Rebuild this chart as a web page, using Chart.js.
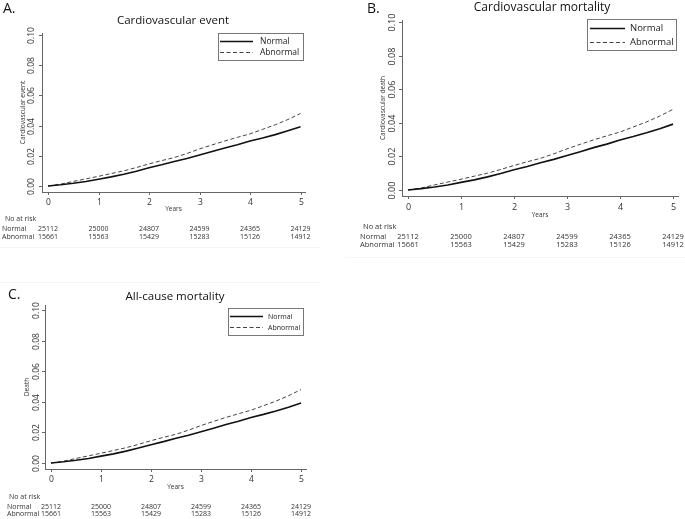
<!DOCTYPE html>
<html>
<head>
<meta charset="utf-8">
<title>Cumulative incidence</title>
<script src="https://cdn.jsdelivr.net/npm/chart.js@4.4.0/dist/chart.umd.min.js"></script>
<style>
  html, body { margin: 0; padding: 0; background: #fff; }
  #wrap { position: relative; width: 685px; height: 519px; overflow: hidden; }
  #wrap canvas { position: absolute; left: 0; top: 0; }
</style>
</head>
<body>
<div id="wrap">
  <canvas id="panelA" width="685" height="519"></canvas>
  <canvas id="panelB" width="685" height="519"></canvas>
  <canvas id="panelC" width="685" height="519"></canvas>
</div>
<script>
// data (the three panels show the same curves)
const years = [0, 0.25, 0.5, 0.75, 1, 1.25, 1.5, 1.75, 2, 2.25, 2.5, 2.75, 3, 3.25, 3.5, 3.75, 4, 4.25, 4.5, 4.75, 5];
const normalRisk = [0, 0.0008, 0.0018, 0.003, 0.0045, 0.006, 0.0078, 0.0098, 0.012, 0.014, 0.0162, 0.0182, 0.0205, 0.0228, 0.0252, 0.0273, 0.0298, 0.0318, 0.034, 0.0365, 0.0392];
const abnormalRisk = [0, 0.0012, 0.003, 0.0047, 0.0064, 0.0082, 0.01, 0.0122, 0.0146, 0.0168, 0.0188, 0.0215, 0.0245, 0.0272, 0.0298, 0.0322, 0.0345, 0.0375, 0.0405, 0.044, 0.048];
const seriesNames = ['Normal', 'Abnormal'];

const xTicks = [0, 1, 2, 3, 4, 5];
const yTicks = [0, 0.02, 0.04, 0.06, 0.08, 0.10];
const yTickLabels = ['0.00', '0.02', '0.04', '0.06', '0.08', '0.10'];

const atRiskNormal = [25112, 25000, 24807, 24599, 24365, 24129];
const atRiskAbnormal = [15661, 15563, 15429, 15283, 15126, 14912];

const panelLetters = ['A.', 'B.', 'C.'];
const panelTitles = ['Cardiovascular event', 'Cardiovascular mortality', 'All-cause mortality'];
const yTitles = ['Cardiovascular event', 'Cardiovascular death', 'Death'];

const FONT = "'Open Sans', sans-serif";

// where each panel sits on the page
const layouts = [
  { id: 'panelA', area: [42, 33, 305, 192], xr: [-0.119, 5.089], yr: [-0.004, 0.1013],
    letter: [3, 9], title: [173, 21], titleSize: 11.5, tickSize: 8.5, yLabOff: 10, yTitleOff: 19, yearsOff: 17,
    legend: [218, 33, 303, 60], legRows: [41, 52], legLine: [2, 35, 42], legSize: 8.5,
    riskHead: [5, 219], riskRows: [229, 237], riskLabelX: 2, riskSize: 7,
    sep: [0, 247, 320, 247] },
  { id: 'panelB', area: [402, 20, 678, 196], xr: [-0.113, 5.094], yr: [-0.0036, 0.1012],
    letter: [367, 9], title: [542, 8], titleSize: 12, tickSize: 9, yLabOff: 10, yTitleOff: 19, yearsOff: 19,
    legend: [587, 19, 676, 50], legRows: [28, 42], legLine: [3, 38, 43], legSize: 9.5,
    riskHead: [363, 227], riskRows: [237, 245], riskLabelX: 360, riskSize: 7.5,
    sep: [345, 257, 685, 257] },
  { id: 'panelC', area: [45, 305, 306, 469], xr: [-0.12, 5.1], yr: [-0.0039, 0.1033],
    letter: [8, 295], title: [175, 297], titleSize: 11.5, tickSize: 8.5, yLabOff: 8, yTitleOff: 18, yearsOff: 18,
    legend: [228, 308, 303, 335], legRows: [316, 327], legLine: [2, 35, 40], legSize: 7,
    riskHead: [9, 497], riskRows: [507, 514], riskLabelX: 7, riskSize: 7,
    sep: [0, 282, 320, 282] }
];

function makeDecor(L, idx) {
  return {
    id: 'decor' + idx,
    afterDraw(chart) {
      const ctx = chart.ctx;
      const xs = chart.scales.x, ys = chart.scales.y;
      const a = chart.chartArea;
      ctx.save();

      // faint frame line of the pasted panel
      ctx.strokeStyle = '#f5f5f5';
      ctx.lineWidth = 1;
      ctx.beginPath();
      ctx.moveTo(L.sep[0], L.sep[1] + 0.5);
      ctx.lineTo(L.sep[2], L.sep[3] + 0.5);
      ctx.stroke();

      ctx.fillStyle = '#111';
      ctx.textBaseline = 'middle';

      // panel letter and title
      ctx.font = '14px ' + FONT;
      ctx.textAlign = 'left';
      ctx.fillText(panelLetters[idx], L.letter[0], L.letter[1]);
      ctx.font = L.titleSize + 'px ' + FONT;
      ctx.textAlign = 'center';
      ctx.fillText(panelTitles[idx], L.title[0], L.title[1]);

      // tick marks and labels
      ctx.strokeStyle = '#666';
      ctx.fillStyle = '#333';
      ctx.font = L.tickSize + 'px ' + FONT;
      xTicks.forEach(function (t) {
        const px = Math.round(xs.getPixelForValue(t)) + 0.5;
        ctx.beginPath();
        ctx.moveTo(px, a.bottom);
        ctx.lineTo(px, a.bottom + 3);
        ctx.stroke();
        ctx.fillText(String(t), px, a.bottom + 11);
      });
      yTicks.forEach(function (t, i) {
        const py = Math.round(ys.getPixelForValue(t)) + 0.5;
        ctx.beginPath();
        ctx.moveTo(a.left - 3, py);
        ctx.lineTo(a.left, py);
        ctx.stroke();
        ctx.save();
        ctx.translate(a.left - L.yLabOff, py);
        ctx.rotate(-Math.PI / 2);
        ctx.fillText(yTickLabels[i], 0, 0);
        ctx.restore();
      });

      // axis titles
      ctx.font = '6.5px ' + FONT;
      ctx.fillText('Years', (a.left + a.right) / 2, a.bottom + L.yearsOff);
      ctx.save();
      ctx.translate(a.left - L.yTitleOff, (a.top + a.bottom) / 2);
      ctx.rotate(-Math.PI / 2);
      ctx.fillText(yTitles[idx], 0, 0);
      ctx.restore();

      // legend
      const lg = L.legend;
      ctx.strokeStyle = '#777';
      ctx.lineWidth = 1;
      ctx.strokeRect(lg[0] + 0.5, lg[1] + 0.5, lg[2] - lg[0], lg[3] - lg[1]);
      ctx.font = L.legSize + 'px ' + FONT;
      ctx.textAlign = 'left';
      ctx.fillStyle = '#222';
      chart.data.datasets.forEach(function (ds, i) {
        const y = L.legRows[i] + 0.5;
        ctx.strokeStyle = ds.borderColor;
        ctx.lineWidth = ds.borderWidth;
        ctx.setLineDash(ds.borderDash || []);
        ctx.beginPath();
        ctx.moveTo(lg[0] + L.legLine[0], y);
        ctx.lineTo(lg[0] + L.legLine[1], y);
        ctx.stroke();
        ctx.setLineDash([]);
        ctx.fillText(ds.label, lg[0] + L.legLine[2], y);
      });

      // number at risk table
      ctx.font = L.riskSize + 'px ' + FONT;
      ctx.fillStyle = '#333';
      ctx.textAlign = 'left';
      ctx.fillText('No at risk', L.riskHead[0], L.riskHead[1]);
      ctx.fillText(seriesNames[0], L.riskLabelX, L.riskRows[0]);
      ctx.fillText(seriesNames[1], L.riskLabelX, L.riskRows[1]);
      ctx.textAlign = 'center';
      xTicks.forEach(function (t, i) {
        const px = xs.getPixelForValue(t);
        ctx.fillText(String(atRiskNormal[i]), px, L.riskRows[0]);
        ctx.fillText(String(atRiskAbnormal[i]), px, L.riskRows[1]);
      });

      ctx.restore();
    }
  };
}

layouts.forEach(function (L, idx) {
  const ctx = document.getElementById(L.id).getContext('2d');
  new Chart(ctx, {
    type: 'line',
    data: {
      datasets: [{
        label: seriesNames[0],
        data: years.map(function (t, i) { return { x: t, y: normalRisk[i] }; }),
        borderColor: '#111',
        borderWidth: 1.6,
        pointRadius: 0,
        tension: 0,
        fill: false
      }, {
        label: seriesNames[1],
        data: years.map(function (t, i) { return { x: t, y: abnormalRisk[i] }; }),
        borderColor: '#444',
        borderWidth: 1,
        borderDash: [4, 2.5],
        pointRadius: 0,
        tension: 0,
        fill: false
      }]
    },
    options: {
      responsive: false,
      animation: false,
      devicePixelRatio: 1,
      layout: {
        padding: { left: L.area[0], top: L.area[1], right: 685 - L.area[2], bottom: 519 - L.area[3] }
      },
      plugins: { legend: { display: false }, tooltip: { enabled: false }, title: { display: false } },
      scales: {
        x: {
          type: 'linear', min: L.xr[0], max: L.xr[1],
          ticks: { display: false },
          grid: { display: false, drawTicks: false },
          border: { display: true, color: '#666', width: 1 }
        },
        y: {
          type: 'linear', min: L.yr[0], max: L.yr[1],
          ticks: { display: false },
          grid: { display: false, drawTicks: false },
          border: { display: true, color: '#666', width: 1 }
        }
      }
    },
    plugins: [makeDecor(L, idx)]
  });
});
</script>
</body>
</html>
